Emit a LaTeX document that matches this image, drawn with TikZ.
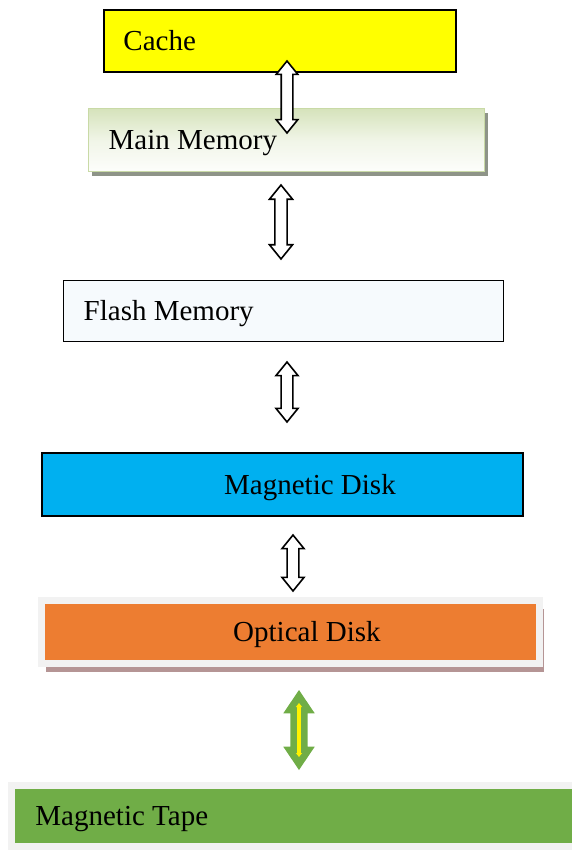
\documentclass[tikz,border=0pt]{standalone}
\usepackage{fontspec}
\setmainfont{Liberation Serif}
\usepackage{xcolor}
\usetikzlibrary{shapes.arrows,shadows,arrows.meta}

\definecolor{cacheyellow}{HTML}{FFFF00}
\definecolor{mmgreen}{HTML}{D6E3BC}
\definecolor{mmborder}{HTML}{C9DAA6}
\definecolor{mmshadow}{HTML}{8E9488}
\definecolor{flashfill}{HTML}{F6FAFD}
\definecolor{diskblue}{HTML}{00B0F0}
\definecolor{optorange}{HTML}{ED7D31}
\definecolor{bandgray}{HTML}{F2F2F2}
\definecolor{optshadow}{HTML}{B59595}
\definecolor{tapegreen}{HTML}{70AD47}

\begin{document}
\begin{tikzpicture}[
    x=1pt, y=-1pt,
    box/.style={rectangle, inner sep=0pt, font=\fontsize{29}{34}\selectfont},
    lbl/.style={anchor=west, inner sep=0pt, text height=19pt, text depth=0pt,
        font=\fontsize{29}{34}\selectfont},
    blockarrow/.style={double arrow, draw=black, fill=white, line width=1.6pt,
        rotate=90, inner sep=0pt, inner ysep=5pt, text height=0pt, text depth=0pt,
        double arrow head extend=5pt, double arrow tip angle=78},
    greenarrow/.style={double arrow, draw=none, fill=tapegreen, rotate=90,
        inner sep=0pt, inner ysep=8.5pt, text height=0pt, text depth=0pt,
        double arrow head extend=7pt, double arrow tip angle=68}
]
\useasboundingbox (0,0) rectangle (571,850);

% Levels of the hierarchy
\node[box, draw=black, line width=1.5pt, fill=cacheyellow, minimum width=352, minimum height=62,
    label={[lbl, xshift=20]west:Cache}] (cache) at (280,41) {};

\node[box, draw=mmborder, line width=1pt, top color=mmgreen, bottom color=white!95!mmgreen, middle color=mmgreen!35,
    drop shadow={shadow xshift=4pt, shadow yshift=-4pt, fill=mmshadow, opacity=1},
    minimum width=396, minimum height=63,
    label={[lbl, xshift=21]west:Main Memory}] (mainmem) at (286,140.5) {};

\node[box, draw=black, line width=1pt, fill=flashfill, minimum width=440, minimum height=61,
    label={[lbl, xshift=21]west:Flash Memory}] (flash) at (283,310.5) {};

\node[box, draw=black, line width=2pt, fill=diskblue, minimum width=481, minimum height=63,
    label={[lbl, xshift=183]west:Magnetic Disk}] (magdisk) at (282.5,484.5) {};

\node[box, draw=bandgray, line width=7pt, fill=optorange,
    drop shadow={shadow xshift=4pt, shadow yshift=-8pt, fill=optshadow, opacity=1},
    minimum width=498, minimum height=63,
    label={[lbl, xshift=195]west:Optical Disk}] (optdisk) at (290.5,632) {};

\node[box, draw=bandgray, line width=7pt, fill=tapegreen, minimum width=568, minimum height=61,
    label={[lbl, xshift=27]west:Magnetic Tape}] (tape) at (295.75,816) {};

% Transfers between levels
\node[blockarrow, minimum height=72, minimum width=21] (cm) at (287,97) {};
\node[blockarrow, minimum height=74, minimum width=23] (mf) at (281,222) {};
\node[blockarrow, minimum height=60, minimum width=22] (fd) at (287,392) {};
\node[blockarrow, minimum height=56, minimum width=22] (dm) at (293,563) {};
\node[greenarrow, minimum height=80, minimum width=31] (ot) at (299,730) {};
\draw[yellow, line width=3.5pt, {Triangle[length=4pt,width=6pt]}-{Triangle[length=4pt,width=6pt]}]
    ([yshift=27pt]ot.center) -- ([yshift=-27pt]ot.center);

\end{tikzpicture}
\end{document}
